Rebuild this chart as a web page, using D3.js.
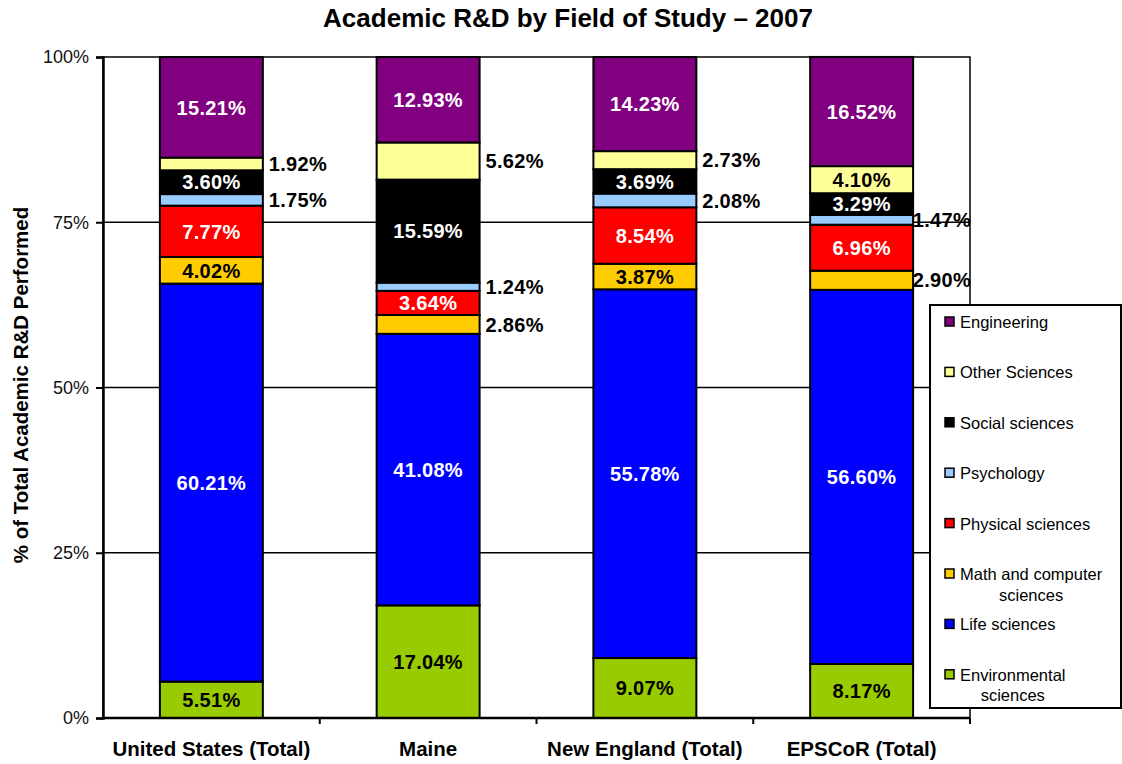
<!DOCTYPE html>
<html lang="en">
<head>
  <meta charset="UTF-8">
  <title>Academic R&amp;D by Field of Study – 2007</title>
  <script src="https://d3js.org/d3.v7.min.js"></script>
  <style>
    body { margin: 0; background: #fff; }
    text { font-family: "Liberation Sans", Arial, sans-serif; }
  </style>
</head>
<body>
  <div id="viz"></div>

  <script>
    // Data (percent of total academic R&D)
    const categories = ['United States (Total)', 'Maine', 'New England (Total)', 'EPSCoR (Total)'];
    // stack order, bottom to top
    const fields = ['Environmental sciences', 'Life sciences', 'Math and computer sciences',
      'Physical sciences', 'Psychology', 'Social sciences', 'Other Sciences', 'Engineering'];
    const environmental = [5.51, 17.04, 9.07, 8.17];
    const life          = [60.21, 41.08, 55.78, 56.60];
    const mathComputer  = [4.02, 2.86, 3.87, 2.90];
    const physical      = [7.77, 3.64, 8.54, 6.96];
    const psychology    = [1.75, 1.24, 2.08, 1.47];
    const social        = [3.60, 15.59, 3.69, 3.29];
    const other         = [1.92, 5.62, 2.73, 4.10];
    const engineering   = [15.21, 12.93, 14.23, 16.52];
    const yTicks = [0, 25, 50, 75, 100];

    const seriesValues = [environmental, life, mathComputer, physical, psychology, social, other, engineering];

    const colors = {
      'Environmental sciences': '#99cc00',
      'Life sciences': '#0000ff',
      'Math and computer sciences': '#ffcc00',
      'Physical sciences': '#ff0000',
      'Psychology': '#99ccff',
      'Social sciences': '#000000',
      'Other Sciences': '#ffff99',
      'Engineering': '#800080'
    };
    const darkFills = ['Life sciences', 'Physical sciences', 'Social sciences', 'Engineering'];
    // labels Excel put beside the bar instead of inside
    const outside = ['United States (Total)|Other Sciences', 'United States (Total)|Psychology',
      'Maine|Other Sciences', 'Maine|Psychology', 'Maine|Math and computer sciences',
      'New England (Total)|Other Sciences', 'New England (Total)|Psychology',
      'EPSCoR (Total)|Psychology', 'EPSCoR (Total)|Math and computer sciences'];

    // build rows for d3.stack
    const rows = categories.map((c, i) => {
      const r = { category: c };
      fields.forEach((f, j) => { r[f] = seriesValues[j][i]; });
      return r;
    });

    const W = 1122, H = 764;
    const plot = { left: 103, right: 970, top: 57, bottom: 718 };

    const svg = d3.select('#viz').append('svg')
      .attr('width', W).attr('height', H);

    const x = d3.scaleBand()
      .domain(categories)
      .range([plot.left, plot.right])
      .paddingInner(0.525)
      .paddingOuter(0.2625);

    const y = d3.scaleLinear()
      .domain([0, 100])
      .range([plot.bottom, plot.top]);

    // Title
    svg.append('text')
      .attr('x', 568).attr('y', 27)
      .attr('text-anchor', 'middle')
      .attr('font-size', 26).attr('font-weight', 'bold')
      .text('Academic R&D by Field of Study – 2007');

    // gridlines + plot frame
    svg.append('g')
      .selectAll('line')
      .data(yTicks.filter(d => d > 0 && d < 100))
      .join('line')
        .attr('x1', plot.left).attr('x2', plot.right)
        .attr('y1', d => y(d)).attr('y2', d => y(d))
        .attr('stroke', '#000').attr('stroke-width', 1.5);

    svg.append('rect')
      .attr('x', plot.left).attr('y', plot.top)
      .attr('width', plot.right - plot.left).attr('height', plot.bottom - plot.top)
      .attr('fill', 'none').attr('stroke', '#000').attr('stroke-width', 1.5);

    // stacked bars
    const stacked = d3.stack().keys(fields)(rows);

    const layers = svg.append('g')
      .selectAll('g')
      .data(stacked)
      .join('g')
        .attr('fill', d => colors[d.key]);

    layers.selectAll('rect')
      .data(d => d)
      .join('rect')
        .attr('x', d => x(d.data.category))
        .attr('y', d => y(d[1]))
        .attr('width', x.bandwidth())
        .attr('height', d => y(d[0]) - y(d[1]))
        .attr('stroke', '#000')
        .attr('stroke-width', 2);

    // data labels
    layers.each(function(layer) {
      d3.select(this).selectAll('text')
        .data(layer)
        .join('text')
          .each(function(d) {
            const cat = d.data.category;
            const isOut = outside.includes(cat + '|' + layer.key);
            const cy = y((d[0] + d[1]) / 2);
            const t = d3.select(this)
              .attr('font-size', 20).attr('font-weight', 'bold')
              .attr('letter-spacing', 0.3)
              .attr('dy', '0.36em')
              .attr('y', cy)
              .text(d3.format('.2f')(d[1] - d[0]) + '%');
            if (isOut) {
              let lx = x(cat) + x.bandwidth() + 6;
              const tw = this.getComputedTextLength();
              if (lx + tw > plot.right + 1) lx = plot.right + 1 - tw;
              t.attr('x', lx).attr('fill', '#000');
            } else {
              t.attr('x', x(cat) + x.bandwidth() / 2)
                .attr('text-anchor', 'middle')
                .attr('fill', darkFills.includes(layer.key) ? '#fff' : '#000');
            }
          });
    });

    // axes
    const yAxis = svg.append('g')
      .attr('transform', `translate(${plot.left},0)`)
      .call(d3.axisLeft(y).tickValues(yTicks).tickSize(7).tickFormat(d => d + '%'));
    yAxis.select('.domain').attr('stroke-width', 2.5);
    yAxis.selectAll('.tick line').attr('stroke-width', 2);
    yAxis.selectAll('.tick text')
      .attr('font-size', 18).attr('font-family', '"Liberation Sans", Arial, sans-serif')
      .attr('x', -14).attr('fill', '#111');

    const xTicks = svg.append('g')
      .attr('transform', `translate(0,${plot.bottom})`);
    xTicks.append('line')
      .attr('x1', plot.left).attr('x2', plot.right)
      .attr('stroke', '#000').attr('stroke-width', 2.5);
    xTicks.selectAll('line.tk')
      .data(categories.map((c, i) => plot.left + (i + 1) * x.step()))
      .join('line')
        .attr('class', 'tk')
        .attr('x1', d => d).attr('x2', d => d)
        .attr('y1', 0).attr('y2', 6)
        .attr('stroke', '#000').attr('stroke-width', 2);
    xTicks.selectAll('text')
      .data(categories)
      .join('text')
        .attr('x', d => x(d) + x.bandwidth() / 2)
        .attr('y', 38)
        .attr('text-anchor', 'middle')
        .attr('font-size', 20.5).attr('font-weight', 'bold')
        .text(d => d);

    // y axis title
    svg.append('text')
      .attr('transform', `translate(28,385) rotate(-90)`)
      .attr('text-anchor', 'middle')
      .attr('font-size', 20.5).attr('font-weight', 'bold')
      .text('% of Total Academic R&D Performed');

    // legend (Excel order: top of the stack first)
    const legendItems = fields.slice().reverse();
    const legendLines = {
      'Math and computer sciences': ['Math and computer', 'sciences'],
      'Environmental sciences': ['Environmental', 'sciences']
    };
    const legend = svg.append('g');
    legend.append('rect')
      .attr('x', 930).attr('y', 305)
      .attr('width', 191).attr('height', 403)
      .attr('fill', '#fff').attr('stroke', '#000').attr('stroke-width', 2);

    const item = legend.selectAll('g.item')
      .data(legendItems)
      .join('g')
        .attr('class', 'item')
        .attr('transform', (d, i) => `translate(945,${322 + i * 50.4})`);
    item.append('rect')
      .attr('x', 0).attr('y', -5)
      .attr('width', 9).attr('height', 9)
      .attr('fill', d => colors[d])
      .attr('stroke', '#000').attr('stroke-width', 1.5);
    item.each(function(d) {
      const g = d3.select(this);
      const lines = legendLines[d];
      if (!lines) {
        g.append('text').attr('x', 15).attr('y', 6)
          .attr('font-size', 16.5).text(d);
      } else {
        const t = g.append('text').attr('font-size', 16.5);
        const first = t.append('tspan').attr('x', 15).attr('y', 6).text(lines[0]);
        const w = first.node().getComputedTextLength();
        t.append('tspan').attr('x', 15 + w / 2).attr('y', 26.5)
          .attr('text-anchor', 'middle').text(lines[1]);
      }
    });
  </script>
</body>
</html>
